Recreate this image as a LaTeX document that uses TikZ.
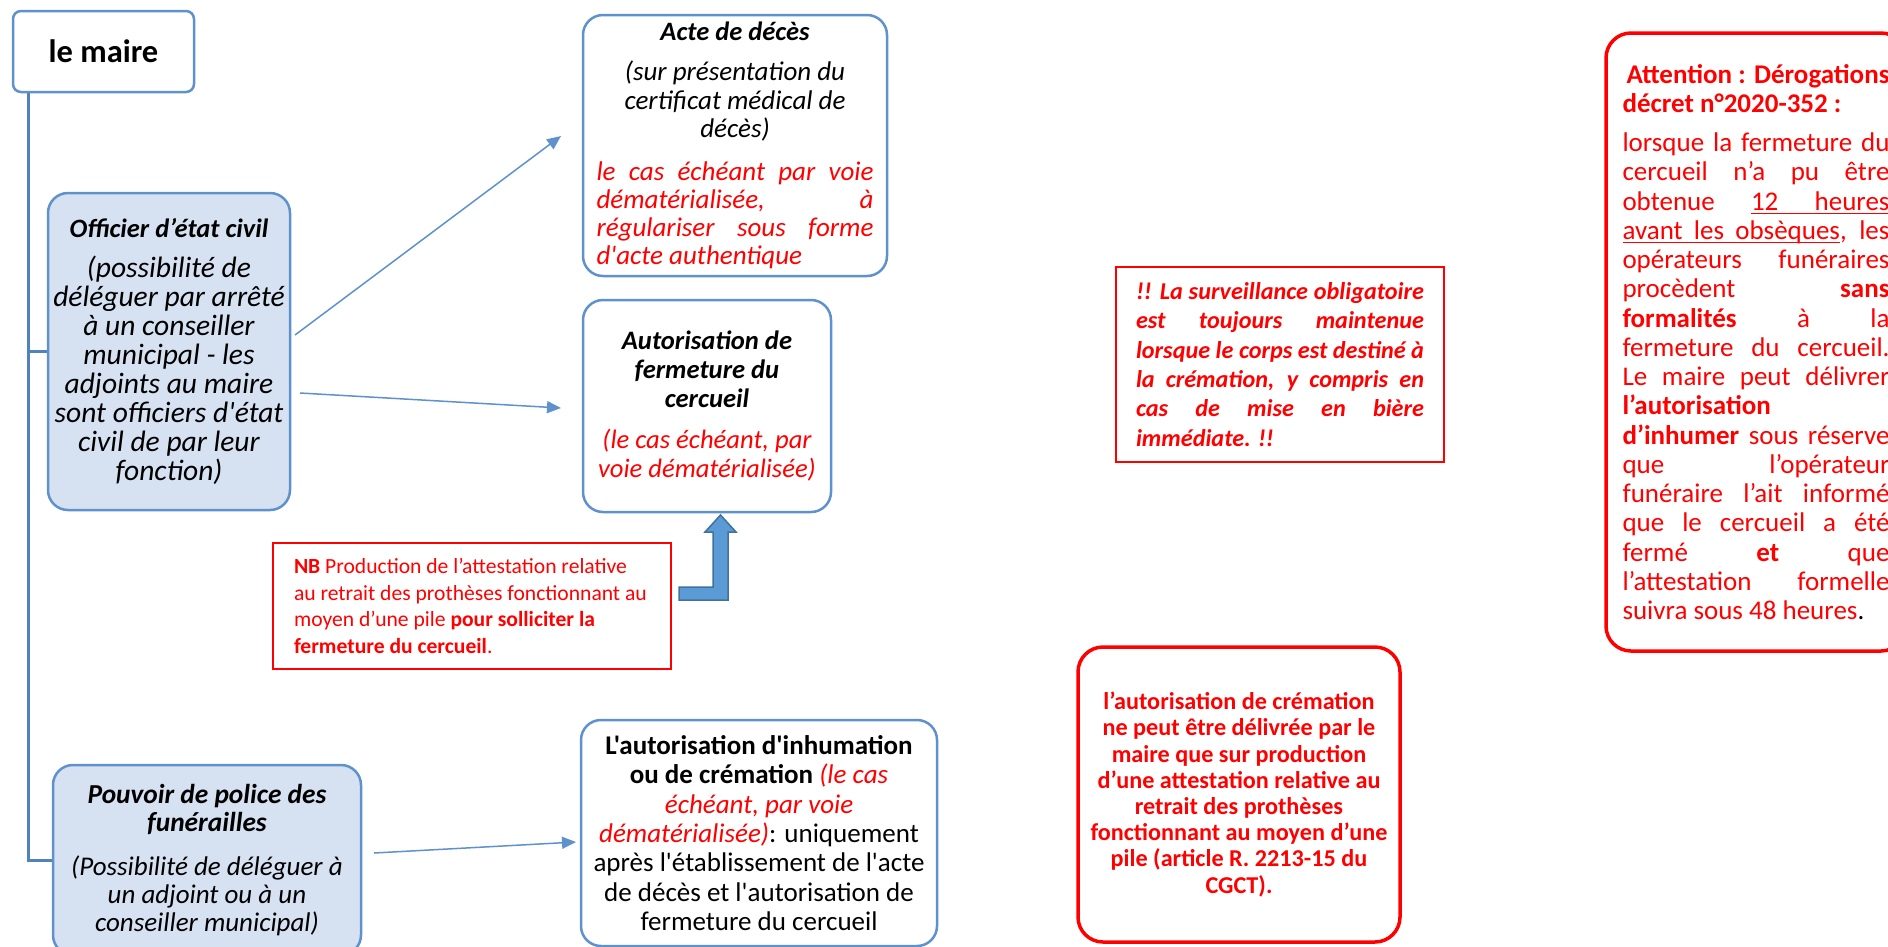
\documentclass[tikz,border=0pt]{standalone}
\usepackage{fontspec}
\newfontfamily\carl{Carlito}
\usetikzlibrary{arrows.meta}
\definecolor{bluebd}{RGB}{95,145,205}
\definecolor{bluefill}{RGB}{214,226,242}
\definecolor{treeblue}{RGB}{80,130,190}
\definecolor{arrfill}{RGB}{91,155,213}
\definecolor{arrbd}{RGB}{65,113,156}
\definecolor{myred}{RGB}{255,0,0}
\newcommand\JL[1]{\hbox to\hsize{#1}}
\newcommand\LL[1]{\hbox to\hsize{#1\hfil}}
\newcommand\CL[1]{\hbox to\hsize{\hfil#1\hfil}}
\newcommand\fs[2]{\fontsize{#1}{#2}\selectfont\lineskiplimit=-100pt\relax}
\newcommand\sz[1]{\fontsize{#1}{#1}\selectfont}
\newcommand\RI{\color{myred}\itshape}
\newcommand\ul[1]{\setbox0\hbox{#1}\rlap{\vrule height -2.5pt depth 4pt width\wd0}\box0}
\newcommand\ulsp{\leaders\vrule height -2.5pt depth 4pt\hskip\fontdimen2\font plus\fontdimen3\font minus\fontdimen4\font\relax}
\hbadness=10000 \hfuzz=80pt
\tikzset{
  bluebox/.style={draw=bluebd, line width=2.5pt, rounded corners=20pt, inner sep=0pt, font=\carl},
  redthin/.style={draw=myred, line width=1.5pt, inner sep=0pt, font=\carl, text=myred},
  redthick/.style={draw=myred, line width=3.5pt, rounded corners=25pt, inner sep=0pt, font=\carl, text=myred},
  tree/.style={draw=treeblue, line width=3pt},
  conn/.style={draw=bluebd, line width=1.5pt, -{Triangle[length=14pt,width=12pt]}},
  blockarrow/.style={fill=arrfill, draw=arrbd, line width=1.5pt},
}
\begin{document}
\begin{tikzpicture}[x=1pt,y=-1pt]
\useasboundingbox (0,0) rectangle (1888,946);
\fill[white] (0,0) rectangle (1888,946);

% le maire
\node[bluebox, rounded corners=8pt, minimum width=181pt, minimum height=81pt] (maire) at (103.5,51.5)
  {\fs{32.5}{38}\bfseries le maire};

% Officier
\node[bluebox, fill=bluefill, minimum width=242pt, minimum height=317pt] (officier) at (169,351.5)
  {\vbox{\hsize=238pt \fs{29.5}{28.9}
   \CL{\sz{26.5}\bfseries\itshape Officier d’état civil}
   \kern11pt
   \CL{\itshape (possibilité de}
   \CL{\itshape déléguer par arrêté}
   \CL{\itshape à un conseiller}
   \CL{\itshape municipal - les}
   \CL{\itshape adjoints au maire}
   \CL{\itshape sont officiers d'état}
   \CL{\itshape civil de par leur}
   \CL{\itshape fonction)}}};

% Acte de deces
\node[bluebox, minimum width=304pt, minimum height=261pt] (acte) at (735,145.5)
  {\vbox{\hsize=277pt \fs{27}{28.5}
   \CL{\sz{26.5}\bfseries\itshape Acte de décès}
   \kern11.5pt
   \CL{\itshape (sur présentation du}
   \CL{\itshape certificat médical de}
   \CL{\itshape décès)}
   \kern15pt
   \baselineskip=28pt
   \JL{\RI le cas échéant par voie}
   \JL{\RI dématérialisée, à}
   \JL{\RI régulariser sous forme}
   \LL{\RI d'acte authentique}}};

% Autorisation de fermeture
\node[bluebox, minimum width=248pt, minimum height=212pt] (autf) at (707,406)
  {\vbox{\hsize=242pt \fs{26.6}{29.1}
   \CL{\bfseries\itshape Autorisation de}
   \CL{\bfseries\itshape fermeture du}
   \CL{\bfseries\itshape cercueil}
   \kern12pt
   \CL{\RI (le cas échéant, par}
   \CL{\RI voie dématérialisée)}}};

% NB
\node[redthin, minimum width=398pt, minimum height=126pt] (nb) at (472,606)
  {\vbox{\hsize=356pt \fs{21.6}{26.4}
   \LL{\textbf{NB} Production de l’attestation relative}
   \LL{au retrait des prothèses fonctionnant au}
   \LL{moyen d’une pile \textbf{pour solliciter la}}
   \LL{\textbf{fermeture du cercueil}.}}};

% block arrow
\draw[blockarrow] (679,587) -- (713,587) -- (713,532) -- (705,532) -- (720.5,515) -- (736,532) -- (728,532) -- (728,600) -- (679,600) -- cycle;

% Pouvoir
\node[bluebox, fill=bluefill, minimum width=308pt, minimum height=190pt] (pouvoir) at (207,860)
  {\vbox{\hsize=300pt \fs{27}{28.3}
   \CL{\sz{27.4}\bfseries\itshape Pouvoir de police des}
   \CL{\sz{27.4}\bfseries\itshape funérailles}
   \kern15.5pt
   \CL{\itshape (Possibilité de déléguer à}
   \CL{\itshape un adjoint ou à un}
   \CL{\itshape conseiller municipal)}}};

% Inhumation
\node[bluebox, minimum width=356pt, minimum height=226pt] (inhum) at (759,833)
  {\vbox{\hsize=350pt \fs{27}{29.3}
   \CL{\bfseries L'autorisation d'inhumation}
   \CL{\textbf{ou de crémation} {\RI(le cas}}
   \CL{{\RI échéant, par voie}}
   \CL{{\RI dématérialisée)}: uniquement}
   \CL{après l'établissement de l'acte}
   \CL{de décès et l'autorisation de}
   \CL{fermeture du cercueil}}};

% Surveillance
\node[redthin, minimum width=328pt, minimum height=195pt] (surv) at (1280,364.5)
  {\vbox{\hsize=288pt \fs{24.2}{29.3}\bfseries\itshape
   \JL{!! La surveillance obligatoire}
   \JL{est toujours maintenue}
   \JL{lorsque le corps est destiné à}
   \JL{la crémation, y compris en}
   \JL{cas de mise en bière}
   \LL{immédiate. !!}}};

% Cremation
\node[redthick, minimum width=322pt, minimum height=295pt] (crem) at (1239,794.5)
  {\vbox{\hsize=316pt \fs{24.2}{26.2}\bfseries
   \CL{l’autorisation de crémation}
   \CL{ne peut être délivrée par le}
   \CL{maire que sur production}
   \CL{d’une attestation relative au}
   \CL{retrait des prothèses}
   \CL{fonctionnant au moyen d’une}
   \CL{pile (article R. 2213-15 du}
   \CL{CGCT).}}};

% Attention
\node[redthick, minimum width=300pt, minimum height=618pt] (attn) at (1756,342)
  {\vbox{\hsize=267pt \fs{27}{29.25}
   \JL{\bfseries\kern4pt Attention : Dérogations}
   \LL{\bfseries décret n°2020-352 :}
   \kern10pt
   \JL{lorsque la fermeture du}
   \JL{cercueil n’a pu être}
   \JL{obtenue \ul{12}\ulsp\ul{heures}}
   \JL{\ul{avant}\ulsp\ul{les}\ulsp\ul{obsèques}, les}
   \JL{opérateurs funéraires}
   \JL{procèdent \textbf{sans}}
   \JL{\textbf{formalités} à la}
   \JL{fermeture du cercueil.}
   \JL{Le maire peut délivrer}
   \LL{\textbf{l’autorisation}}
   \JL{\textbf{d’inhumer} sous réserve}
   \JL{que l’opérateur}
   \JL{funéraire l’ait informé}
   \JL{que le cercueil a été}
   \JL{fermé \textbf{et} que}
   \JL{l’attestation formelle}
   \LL{suivra sous 48 heures{\color{black}.}}}};

% tree lines
\coordinate (trunk) at ([xshift=17pt]maire.south west);
\draw[tree] (trunk) |- (pouvoir.west);
\draw[tree] (trunk |- officier.west) -- (officier.west);

% arrows
\coordinate (a1s) at (295,335);
\coordinate (a1e) at (561,136);
\coordinate (a2s) at (300,393);
\coordinate (a2e) at (561,408);
\coordinate (a3s) at (374,853);
\coordinate (a3e) at (576,842);
\draw[conn] (a1s) -- (a1e);
\draw[conn] (a2s) -- (a2e);
\draw[conn] (a3s) -- (a3e);
\end{tikzpicture}
\end{document}
